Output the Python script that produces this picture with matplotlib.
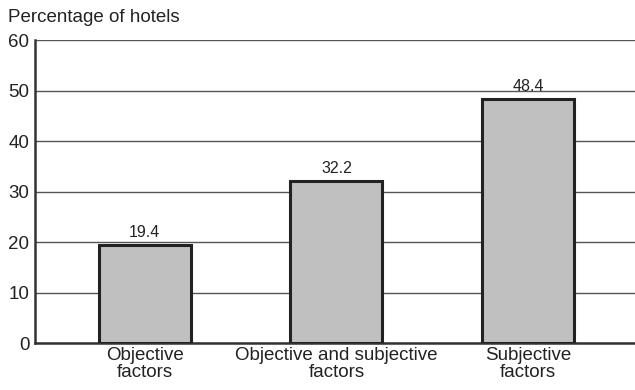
import matplotlib
matplotlib.use("Agg")
import matplotlib.pyplot as plt

categories = ["Objective\nfactors", "Objective and subjective\nfactors", "Subjective\nfactors"]
values = [19.4, 32.2, 48.4]
yticks = [0, 10, 20, 30, 40, 50, 60]

plt.rcParams['font.family'] = ['Liberation Sans', 'DejaVu Sans']

fig = plt.figure(figsize=(6.35, 3.9), dpi=100)
ax = fig.add_axes([0.055, 0.12, 0.945, 0.777])

x = list(range(len(categories)))
ax.bar(x, values, width=0.48, color='#c0c0c0', edgecolor='#222222', linewidth=2.2, zorder=3)
for xi, v in zip(x, values):
    ax.text(xi, v + 1.0, f"{v:.1f}", ha='center', va='bottom', fontsize=11.5, color='#222222')

ax.set_ylim(0, 60)
ax.set_xlim(-0.574, 2.559)
ax.set_yticks(yticks)
ax.yaxis.grid(True, color='#555555', linewidth=1.0, zorder=0)
ax.set_axisbelow(True)
ax.tick_params(axis='both', length=0, labelsize=13.5, colors='#222222', pad=3)
ax.tick_params(axis='y', pad=4)
ax.set_xticks(x)
ax.set_xticklabels(categories, linespacing=1.0)

for s in ['top', 'right']:
    ax.spines[s].set_visible(False)
ax.spines['left'].set_color('#333333')
ax.spines['left'].set_linewidth(1.8)
ax.spines['bottom'].set_color('#333333')
ax.spines['bottom'].set_linewidth(1.8)

fig.text(0.012, 0.956, "Percentage of hotels", fontsize=13.5, color='#222222', ha='left', va='center')

fig.savefig("out.png", dpi=100)
